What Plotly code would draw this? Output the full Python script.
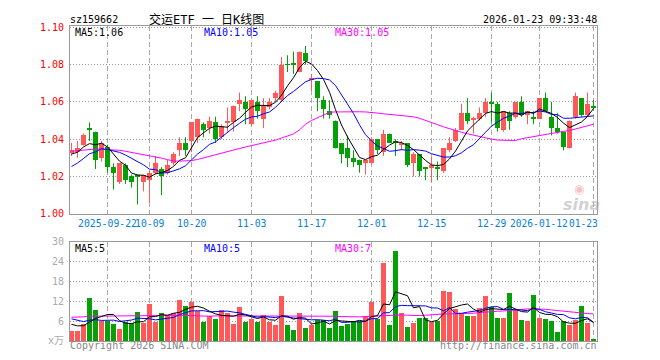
import plotly.graph_objects as go

# ---------------- data ----------------
opens = [1.033,1.033,1.037,1.046,1.044,1.030,1.036,1.025,1.017,1.026,
         1.020,1.021,1.017,1.018,1.022,1.024,1.022,1.027,1.034,1.038,
         1.039,1.041,1.048,1.046,1.049,1.041,1.049,1.049,1.059,1.060,
         1.048,1.060,1.051,1.057,1.062,1.061,1.0802,1.081,1.076,1.086,
         1.072,1.071,1.061,1.055,1.050,1.038,1.035,1.030,1.029,1.027,
         1.027,1.040,1.033,1.043,1.039,1.037,1.038,1.027,1.032,1.025,
         1.025,1.025,1.023,1.034,1.039,1.045,1.054,1.0505,1.051,1.054,
         1.060,1.059,1.045,1.054,1.052,1.060,1.053,1.052,1.051,1.062,
         1.052,1.046,1.044,1.035,1.052,1.062,1.053,1.058]
highs = [1.038,1.039,1.043,1.049,1.044,1.039,1.037,1.027,1.027,1.027,
         1.021,1.021,1.021,1.023,1.031,1.025,1.029,1.033,1.041,1.041,
         1.049,1.051,1.049,1.052,1.052,1.048,1.057,1.058,1.065,1.063,
         1.061,1.063,1.062,1.062,1.066,1.084,1.085,1.087,1.087,1.090,
         1.075,1.071,1.063,1.061,1.050,1.038,1.042,1.034,1.029,1.029,
         1.041,1.040,1.045,1.043,1.040,1.039,1.038,1.033,1.032,1.025,
         1.030,1.028,1.035,1.041,1.046,1.059,1.062,1.052,1.057,1.062,
         1.065,1.060,1.055,1.055,1.060,1.063,1.055,1.055,1.062,1.065,
         1.060,1.054,1.044,1.050,1.065,1.062,1.065,1.061]
lows = [1.031,1.030,1.0365,1.039,1.024,1.028,1.022,1.013,1.016,1.016,
        1.014,1.005,1.012,1.006,1.021,1.010,1.021,1.026,1.031,1.031,
        1.033,1.038,1.041,1.043,1.038,1.040,1.044,1.044,1.055,1.048,
        1.047,1.051,1.046,1.056,1.060,1.060,1.076,1.075,1.076,1.080,
        1.066,1.055,1.051,1.051,1.035,1.027,1.025,1.025,1.022,1.021,
        1.027,1.032,1.031,1.038,1.031,1.034,1.025,1.020,1.020,1.018,
        1.017,1.018,1.022,1.033,1.0385,1.045,1.048,1.043,1.050,1.052,
        1.049,1.044,1.044,1.045,1.051,1.052,1.048,1.048,1.051,1.055,
        1.042,1.043,1.034,1.035,1.051,1.052,1.052,1.056]
closes = [1.034,1.035,1.042,1.045,1.029,1.038,1.025,1.022,1.027,1.018,
          1.017,1.020,1.021,1.022,1.027,1.020,1.026,1.032,1.038,1.034,
          1.049,1.051,1.045,1.050,1.040,1.047,1.050,1.058,1.061,1.056,
          1.061,1.055,1.058,1.060,1.065,1.080,1.0798,1.080,1.087,1.082,
          1.073,1.062,1.056,1.053,1.035,1.032,1.030,1.028,1.026,1.029,
          1.040,1.034,1.043,1.038,1.038,1.038,1.026,1.032,1.023,1.024,
          1.026,1.024,1.035,1.038,1.045,1.054,1.050,1.051,1.054,1.060,
          1.059,1.046,1.055,1.050,1.060,1.053,1.055,1.051,1.062,1.055,
          1.046,1.044,1.036,1.050,1.063,1.053,1.059,1.057]
volumes = [3.2,3.2,5.2,13.0,9.5,6.2,6.2,5.2,3.7,5.7,
           5.5,8.9,5.4,11.2,5.9,8.5,7.9,8.5,12.4,10.6,
           11.8,9.2,5.9,7.5,6.7,9.5,8.5,5.3,10.4,5.7,
           6.7,5.9,7.9,5.9,5.0,13.6,5.0,3.5,8.5,3.9,
           4.9,6.4,6.4,4.1,9.2,4.5,5.1,6.2,6.2,7.5,
           11.9,6.7,23.7,5.0,27.2,8.4,4.2,5.4,6.9,6.9,
           5.9,6.2,15.2,14.9,9.7,8.5,7.7,7.5,9.9,13.7,
           10.2,6.9,6.9,14.7,9.5,6.5,6.2,14.1,6.9,6.7,
           6.2,2.9,6.2,5.0,6.5,10.5,5.4,0.5]
# closes / volumes just before the window (estimated from where the MA lines start)
prior_closes = [1.016, 1.018, 1.019, 1.020, 1.020, 1.030, 1.028, 1.036, 1.032]
prior_volumes = [8.0, 9.0, 8.5, 8.0, 8.5, 5.5, 5.0, 7.8, 3.7]
# 30-day averages
ma30_price = [1.0335,1.0339,1.0343,1.0347,1.0347,1.0346,1.0345,1.0343,1.0340,1.0335,
              1.0329,1.0323,1.0318,1.0314,1.0306,1.0298,1.0290,1.0283,1.0282,1.0282,
              1.0285,1.0291,1.0300,1.0308,1.0317,1.0325,1.0333,1.0341,1.0350,1.0358,
              1.0365,1.0371,1.0377,1.0384,1.0395,1.0406,1.0417,1.0428,1.0450,1.0480,
              1.0500,1.0515,1.0530,1.0544,1.0546,1.0547,1.0547,1.0547,1.0547,1.0546,
              1.0545,1.0540,1.0536,1.0533,1.0530,1.0528,1.0526,1.0520,1.0512,1.0502,
              1.0490,1.0478,1.0466,1.0455,1.0444,1.0437,1.0429,1.0421,1.0414,1.0407,
              1.0400,1.0395,1.0393,1.0393,1.0393,1.0402,1.0408,1.0415,1.0420,1.0427,
              1.0432,1.0438,1.0442,1.0446,1.0455,1.0464,1.0472,1.0480]
ma30_vol = [7.2,7.2,7.3,7.5,7.5,7.5,7.5,7.5,7.5,7.5,
            7.5,7.5,7.5,7.6,7.6,7.7,7.8,7.8,7.9,7.8,
            7.7,7.6,7.5,7.5,7.6,7.6,7.7,7.7,7.7,7.7,
            7.7,7.7,7.7,7.7,7.7,7.7,7.7,7.7,7.7,7.7,
            7.7,7.7,7.7,7.6,7.5,7.4,7.3,7.3,7.3,7.4,
            7.5,7.6,7.8,7.9,8.0,7.9,7.8,7.7,7.7,7.8,
            8.0,8.1,8.2,8.2,8.2,8.2,8.2,8.4,8.6,8.8,
            8.9,9.0,9.1,9.3,9.5,9.6,9.7,9.7,9.7,9.6,
            9.4,9.2,8.9,8.7,8.5,8.4,8.3,8.2]

grid_idx = [6, 13, 20, 30, 40, 50, 60, 70, 78, 87]
date_labels = ["2025-09-22", "10-09", "10-20", "11-03", "11-17",
               "12-01", "12-15", "12-29", "2026-01-12", "01-23"]
price_ticks = [1.00, 1.02, 1.04, 1.06, 1.08, 1.10]
price_ticktext = ["1.00", "1.02", "1.04", "1.06", "1.08", "1.10"]
vol_ticks = [0, 6, 12, 18, 24, 30]
vol_ticktext = ["x万", "6", "12", "18", "24", "30"]

# ---------------- derived ----------------
def moving_avg(prior, values, k):
    full = list(prior) + list(values)
    off = len(prior)
    return [sum(full[off + i - k + 1: off + i + 1]) / k for i in range(len(values))]

n = len(closes)
idx = list(range(n))
ma5 = moving_avg(prior_closes, closes, 5)
ma10 = moving_avg(prior_closes, closes, 10)
vma5 = moving_avg(prior_volumes, volumes, 5)
vma10 = moving_avg(prior_volumes, volumes, 10)

RED = "#ff5858"
GREEN = "#05a005"
is_up = [c >= o for o, c in zip(opens, closes)]

fig = go.Figure()

for flag, col in ((True, RED), (False, GREEN)):
    wx, wy = [], []
    bx, bbase, bh = [], [], []
    vx, vy = [], []
    for i in idx:
        if is_up[i] != flag:
            continue
        wx += [i, i, None]
        wy += [lows[i], highs[i], None]
        bx.append(i)
        bbase.append(min(opens[i], closes[i]))
        bh.append(max(abs(closes[i] - opens[i]), 0.0005))
        vx.append(i)
        vy.append(volumes[i])
    fig.add_trace(go.Scatter(x=wx, y=wy, mode="lines", line=dict(color=col, width=1),
                             xaxis="x", yaxis="y", hoverinfo="skip"))
    fig.add_trace(go.Bar(x=bx, y=bh, base=bbase, width=0.84, marker=dict(color=col, line=dict(width=0)),
                         xaxis="x", yaxis="y"))
    fig.add_trace(go.Bar(x=vx, y=vy, width=0.84, marker=dict(color=col, line=dict(width=0)),
                         xaxis="x2", yaxis="y2"))

for series, col in ((ma30_price, "#ff00ff"), (ma10, "#0000ff"), (ma5, "#000000")):
    fig.add_trace(go.Scatter(x=idx, y=series, mode="lines", line=dict(color=col, width=1),
                             xaxis="x", yaxis="y"))
for series, col in ((ma30_vol, "#ff00ff"), (vma10, "#0000ff"), (vma5, "#000000")):
    fig.add_trace(go.Scatter(x=idx, y=series, mode="lines", line=dict(color=col, width=1),
                             xaxis="x2", yaxis="y2"))

# ---------------- layout ----------------
# page coordinates of the plot area (the page body adds an 8px offset)
OFF = 8
L, R, T, B = 70, 597, 20, 341
W = R - L
H = B - T
def px(x):
    return (x - L) / W
def py(y):
    return (B - y) / H

FRAME = "#999999"
MONO = "DejaVu Sans Mono"
xr = [-0.25, 87.5833]
xcommon = dict(range=xr, tickvals=grid_idx, showticklabels=False, showgrid=True,
               gridcolor="#aaaaaa", griddash="5px,3px", gridwidth=1, zeroline=False,
               showline=True, linecolor=FRAME, linewidth=1, mirror=True, ticks="")

fig.update_layout(
    width=660 - OFF, height=360 - OFF,
    margin=dict(l=L - OFF, r=660 - R, t=T - OFF, b=360 - B, pad=0),
    paper_bgcolor="white", plot_bgcolor="white",
    showlegend=False, barmode="overlay", bargap=0,
    xaxis=dict(domain=[0, 1], anchor="y", **xcommon),
    xaxis2=dict(domain=[0, 1], anchor="y2", matches="x", **xcommon),
    yaxis=dict(domain=[py(211.3), 1.0], range=[1.0, 1.1007], tickvals=price_ticks,
               ticktext=price_ticktext, tickfont=dict(family=MONO, size=10, color="#ff0000"),
               showgrid=True, gridcolor="#999999", griddash="1px,2px", zeroline=False,
               showline=True, linecolor=FRAME, linewidth=1, mirror=True, ticks="",
               ticklabelstandoff=3),
    yaxis2=dict(domain=[0, py(240)], range=[0, 30], tickvals=vol_ticks, ticktext=vol_ticktext,
                tickfont=dict(family=MONO + ", Noto Sans CJK SC", size=10, color="#aaaaaa"),
                showgrid=True, gridcolor="#999999", griddash="1px,2px", zeroline=False,
                showline=True, linecolor=FRAME, linewidth=1, mirror=True, ticks="",
                ticklabelstandoff=3),
    font=dict(family=MONO, size=10, color="#000000"),
)

ann = []
def text(x, y, s, color="#000000", size=10, anchor="left", family=MONO, xref="paper"):
    ann.append(dict(x=x, y=y, xref=xref, yref="paper", text=s, showarrow=False,
                    xanchor=anchor, yanchor="middle", borderpad=0,
                    font=dict(family=family, size=size, color=color)))

# header
text(px(69), py(13.3), "sz159662")
text(px(148), py(13.3), "交运ETF 一 日K线图", size=12, family=MONO + ", Noto Sans CJK SC")
text(px(598), py(13.3), "2026-01-23 09:33:48", anchor="right")
# legends
text(px(74), py(26.5), "MA5:1.06")
text(px(203), py(26.5), "MA10:1.05", color="#0000ff")
text(px(334), py(26.5), "MA30:1.05", color="#ff00ff")
text(px(74), py(246.5), "MA5:5")
text(px(203), py(246.5), "MA10:5", color="#0000ff")
text(px(334), py(246.5), "MA30:7", color="#ff00ff")
# date labels
LBL = "#0a7fd8"
for k, (gi, lab) in enumerate(zip(grid_idx, date_labels)):
    if k == len(grid_idx) - 1:
        text(px(599), py(221.5), lab, color=LBL, size=9.6, anchor="right")
    elif k == len(grid_idx) - 2:
        text(gi - 0.15, py(221.5), lab, color=LBL, size=9.6, anchor="center", xref="x")
    else:
        text(gi, py(221.5), lab, color=LBL, size=9.8, anchor="center", xref="x")
# footer
text(px(69), py(346), "Copyright 2026 SINA.COM", color="#888888")
text(px(598), py(346), "http://finance.sina.com.cn", color="#888888", anchor="right")
# watermark
text(px(579), py(186), "◉", color="rgba(240,140,140,0.55)", size=12, anchor="center",
     family="DejaVu Sans")
text(px(581), py(202), "<b><i>sina</i></b>", color="rgba(170,170,170,0.55)", size=16,
     anchor="center", family="DejaVu Sans")

fig.update_layout(annotations=ann)
fig.write_html("out.html")
